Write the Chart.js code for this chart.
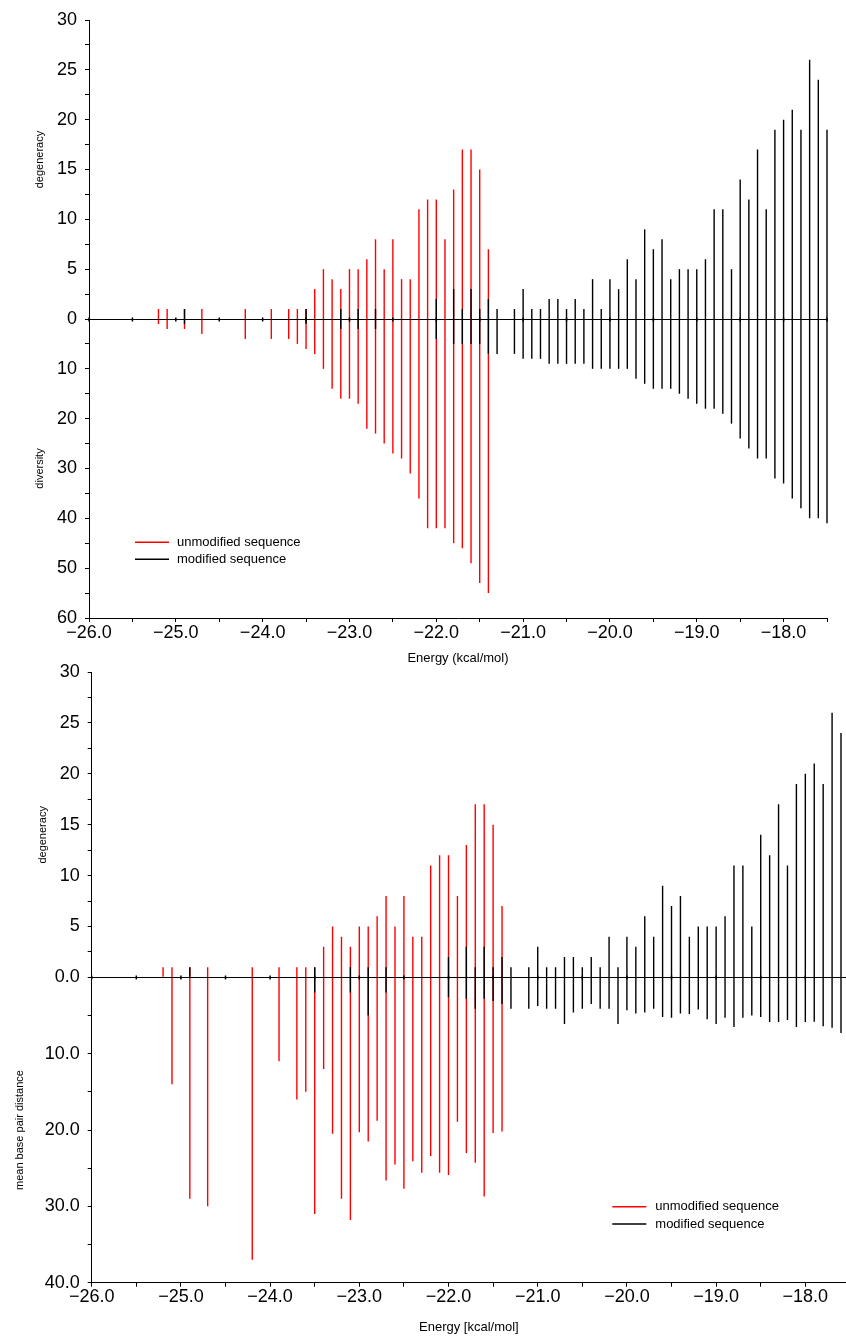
<!DOCTYPE html>
<html>
<head>
<meta charset="utf-8">
<style>
  html, body { margin: 0; padding: 0; background: #fff; }
  #wrap { position: relative; width: 846px; height: 1336px; overflow: hidden; background: #fff; }
  #topChart { position: absolute; left: 0; top: 0; }
  #bottomChart { position: absolute; left: 0; top: 652px; }
</style>
</head>
<body>
<div id="wrap">
  <canvas id="topChart" width="846" height="668"></canvas>
  <canvas id="bottomChart" width="846" height="684"></canvas>
</div>

<script src="https://cdn.jsdelivr.net/npm/chart.js"></script>

<script>
  // ---- data ----
  // unmodified sequence (red)
  const unmodEnergy = [-25.2, -25.1, -24.9, -24.7, -24.2, -23.9, -23.7, -23.6, -23.5, -23.4,
    -23.3, -23.2, -23.1, -23.0, -22.9, -22.8, -22.7, -22.6, -22.5, -22.4,
    -22.3, -22.2, -22.1, -22.0, -21.9, -21.8, -21.7, -21.6, -21.5, -21.4];
  const unmodDegeneracy = [1, 1, 1, 1, 1, 1, 1, 1, 1, 3,
    5, 4, 3, 5, 5, 6, 8, 5, 8, 4,
    4, 11, 12, 12, 8, 13, 17, 17, 15, 7];
  const unmodDiversity = [1, 2, 2, 3, 4, 4, 4, 5, 6, 7,
    10, 14, 16, 16, 17, 22, 23, 25, 27, 28,
    31, 36, 42, 42, 42, 45, 46, 49, 53, 55];
  const unmodDistance = [0, 14, 29, 30, 37, 11, 16, 15, 31, 12,
    20.5, 29, 31.8, 20.3, 21.5, 18.8, 26.6, 24.5, 27.7, 24.1,
    25.6, 23.4, 25.6, 25.9, 18.9, 23, 24.3, 28.7, 20.4, 20.2];

  // modified sequence (black)
  const modEnergy = [-24.9, -23.5, -23.1, -22.9, -22.7, -22.0, -21.8, -21.7, -21.6, -21.5,
    -21.4, -21.3, -21.1, -21.0, -20.9, -20.8, -20.7, -20.6, -20.5, -20.4,
    -20.3, -20.2, -20.1, -20.0, -19.9, -19.8, -19.7, -19.6, -19.5, -19.4,
    -19.3, -19.2, -19.1, -19.0, -18.9, -18.8, -18.7, -18.6, -18.5, -18.4,
    -18.3, -18.2, -18.1, -18.0, -17.9, -17.8, -17.7, -17.6, -17.5];
  const modDegeneracy = [1, 1, 1, 1, 1, 2, 3, 1, 3, 1,
    2, 1, 1, 3, 1, 1, 2, 2, 1, 2,
    1, 4, 1, 4, 3, 6, 4, 9, 7, 8,
    4, 5, 5, 5, 6, 11, 11, 5, 14, 12,
    17, 11, 19, 20, 21, 19, 26, 24, 19];
  const modDiversity = [1, 1, 2, 2, 2, 4, 5, 5, 5, 5,
    7, 7, 7, 8, 8, 8, 9, 9, 9, 9,
    9, 10, 10, 10, 10, 10, 12, 13, 14, 14,
    14, 15, 16, 17, 18, 18, 19, 21, 24, 26,
    28, 28, 32, 33, 36, 38, 40, 40, 41];
  // last level (-17.5) lies outside the lower panel
  const modDistance = [0, 2, 2, 5, 2, 2.6, 2.8, 4.1, 2.8, 3.1,
    3.5, 4.1, 4.1, 3.75, 4.1, 4.1, 6.1, 4.6, 4.1, 3.5,
    4.1, 4.1, 6.1, 4.3, 4.75, 4.6, 4.1, 5.2, 5.3, 4.75,
    4.8, 4.2, 5.5, 6.1, 5.3, 6.5, 5.3, 5, 5.2, 5.85,
    5.85, 5.6, 6.5, 5.85, 5.8, 6.4, 6.6, 7.3, null];

  // axis ticks
  const energyTicks = [-26, -25.5, -25, -24.5, -24, -23.5, -23, -22.5, -22, -21.5,
    -21, -20.5, -20, -19.5, -19, -18.5, -18, -17.5];
  const degTicks = [0, 2.5, 5, 7.5, 10, 12.5, 15, 17.5, 20, 22.5, 25, 27.5, 30];
  const diversityTicks = [5, 10, 15, 20, 25, 30, 35, 40, 45, 50, 55, 60];
  const distanceTicks = [5, 10, 15, 20, 25, 30, 35, 40];

  // the lower half of each panel has its own scale
  const DIVERSITY_FACTOR = 0.5;   // 60 diversity  == 30 degeneracy
  const DISTANCE_FACTOR = 0.75;   // 40 distance   == 30 degeneracy

  const FONT = '"Liberation Sans", Arial, Helvetica, sans-serif';
  const MINUS = '\u2212';

  function stems(energy, up, down, factor) {
    const out = [];
    energy.forEach((e, i) => {
      if (down[i] == null) return;
      out.push({ x: e, y: [-down[i] * factor, up[i]] });
    });
    return out;
  }

  function round2(v) { return Math.round(v * 100) / 100; }

  // horizontal zero line with small ticks
  const zeroLine = {
    id: 'zeroLine',
    afterDatasetsDraw(chart) {
      const { ctx, chartArea, scales: { x, y } } = chart;
      const y0 = Math.round(y.getPixelForValue(0)) + 0.5;
      ctx.save();
      ctx.strokeStyle = '#000';
      ctx.lineWidth = 1;
      ctx.beginPath();
      ctx.moveTo(chartArea.left, y0);
      ctx.lineTo(chartArea.right, y0);
      ctx.stroke();
      ctx.lineWidth = 1.5;
      ctx.beginPath();
      x.ticks.forEach(t => {
        const px = x.getPixelForValue(t.value);
        ctx.moveTo(px, y0 - 2);
        ctx.lineTo(px, y0 + 2);
      });
      ctx.stroke();
      ctx.restore();
    }
  };

  // the two y titles and the legend box inside the plot
  const annotations = {
    id: 'annotations',
    afterDraw(chart, args, opts) {
      const { ctx, chartArea, scales: { y } } = chart;
      ctx.save();
      ctx.fillStyle = '#000';
      ctx.font = '11px ' + FONT;
      ctx.textAlign = 'center';
      ctx.textBaseline = 'middle';
      opts.yTitles.forEach(t => {
        ctx.save();
        ctx.translate(t.x, y.getPixelForValue(t.at));
        ctx.rotate(-Math.PI / 2);
        ctx.fillText(t.text, 0, 0);
        ctx.restore();
      });

      const lg = opts.legend;
      ctx.font = '13px ' + FONT;
      ctx.textAlign = 'left';
      const items = chart.data.datasets.slice().sort((a, b) => b.order - a.order);
      items.forEach((ds, i) => {
        const lx = chartArea.left + lg.dx;
        const ly = chartArea.top + lg.dy + i * lg.gap;
        ctx.strokeStyle = ds.backgroundColor;
        ctx.lineWidth = 1.5;
        ctx.beginPath();
        ctx.moveTo(lx, ly);
        ctx.lineTo(lx + 34, ly);
        ctx.stroke();
        ctx.fillText(ds.label, lx + lg.textGap, ly);
      });
      ctx.restore();
    }
  };

  function makePanel(canvasId, p) {
    const ctx = document.getElementById(canvasId).getContext('2d');
    return new Chart(ctx, {
      type: 'bar',
      data: {
        datasets: [
          {
            label: 'unmodified sequence',
            data: stems(unmodEnergy, unmodDegeneracy, p.unmodDown, p.factor),
            backgroundColor: '#ff0000',
            barThickness: 1.4,
            grouped: false,
            inflateAmount: 0,
            borderWidth: 0,
            clip: 3,
            order: 2
          },
          {
            label: 'modified sequence',
            data: stems(modEnergy, modDegeneracy, p.modDown, p.factor),
            backgroundColor: '#000000',
            barThickness: 1.4,
            grouped: false,
            inflateAmount: 0,
            borderWidth: 0,
            clip: 3,
            order: 1
          }
        ]
      },
      options: {
        responsive: false,
        animation: false,
        events: [],
        layout: { padding: { top: 20, right: p.padRight, left: 0, bottom: 0 } },
        plugins: {
          legend: { display: false },
          tooltip: { enabled: false },
          annotations: { yTitles: p.yTitles, legend: p.legend }
        },
        scales: {
          x: {
            type: 'linear',
            min: -26,
            max: p.xMax,
            offset: false,
            grid: { drawOnChartArea: false, offset: false, tickLength: 4, color: '#000' },
            border: { color: '#000', width: 1 },
            ticks: {
              autoSkip: false,
              maxRotation: 0,
              padding: 0,
              color: '#000',
              font: { family: FONT, size: 18 },
              callback: v => Number.isInteger(round2(v)) ? MINUS + Math.abs(v).toFixed(1) : ''
            },
            afterBuildTicks: s => {
              s.ticks = energyTicks.filter(v => v <= s.max + 1e-9).map(v => ({ value: v }));
            },
            title: {
              display: true,
              text: p.xTitle,
              color: '#000',
              font: { family: FONT, size: 13 },
              padding: { top: 0, bottom: p.titlePad }
            },
            afterFit: s => { s.height = p.xHeight; }
          },
          y: {
            type: 'linear',
            min: -30,
            max: 30,
            grid: { drawOnChartArea: false, tickLength: 4, color: '#000' },
            border: { color: '#000', width: 1 },
            ticks: {
              autoSkip: false,
              padding: 8,
              color: '#000',
              font: { family: FONT, size: 18 },
              callback: p.yLabel
            },
            afterBuildTicks: s => {
              const down = p.downTicks.map(v => ({ value: -v * p.factor }));
              const up = degTicks.map(v => ({ value: v }));
              s.ticks = down.reverse().concat(up);
            },
            afterFit: s => { s.width = p.yWidth; }
          }
        }
      },
      plugins: [zeroLine, annotations]
    });
  }

  // upper panel: degeneracy / diversity
  makePanel('topChart', {
    factor: DIVERSITY_FACTOR,
    unmodDown: unmodDiversity,
    modDown: modDiversity,
    downTicks: diversityTicks,
    xMax: -17.5,
    padRight: 19,
    yWidth: 89,
    xHeight: 50,
    titlePad: 2,
    xTitle: 'Energy (kcal/mol)',
    yLabel: v => {
      if (v >= 0) return v % 5 === 0 ? String(v) : '';
      const d = round2(-v / DIVERSITY_FACTOR);
      return d % 10 === 0 ? String(d) : '';
    },
    yTitles: [
      { text: 'degeneracy', x: 40, at: 16 },
      { text: 'diversity', x: 40, at: -15 }
    ],
    legend: { dx: 46, dy: 522.3, gap: 17, textGap: 42 }
  });

  // lower panel: degeneracy / mean base pair distance
  makePanel('bottomChart', {
    factor: DISTANCE_FACTOR,
    unmodDown: unmodDistance,
    modDown: modDistance,
    downTicks: distanceTicks,
    xMax: -17.544,
    padRight: 0,
    yWidth: 91.7,
    xHeight: 53.3,
    titlePad: 1,
    xTitle: 'Energy [kcal/mol]',
    yLabel: v => {
      if (v === 0) return '0.0';
      if (v > 0) return v % 5 === 0 ? String(v) : '';
      const d = round2(-v / DISTANCE_FACTOR);
      return d % 10 === 0 ? d.toFixed(1) : '';
    },
    yTitles: [
      { text: 'degeneracy', x: 43, at: 14 },
      { text: 'mean base pair distance', x: 20, at: -15 }
    ],
    legend: { dx: 520.6, dy: 534.7, gap: 17.3, textGap: 43 }
  });
</script>
</body>
</html>
